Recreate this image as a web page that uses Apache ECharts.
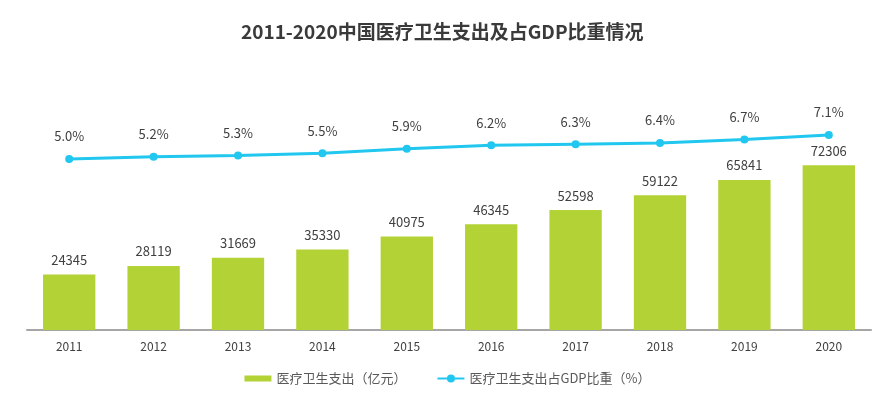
<!DOCTYPE html>
<html><head><meta charset="utf-8">
<script src="https://cdn.jsdelivr.net/npm/echarts@6/dist/echarts.min.js"></script>
<style>html,body{margin:0;padding:0;background:#fff}#c{width:895px;height:394px}</style>
</head><body><div id="c"></div>
<script>
const years = ['2011','2012','2013','2014','2015','2016','2017','2018','2019','2020'];
const spending = [24345, 28119, 31669, 35330, 40975, 46345, 52598, 59122, 65841, 72306];
const gdpShare = [5.0, 5.2, 5.3, 5.5, 5.9, 6.2, 6.3, 6.4, 6.7, 7.1];
const shareLabels = ['5.0%','5.2%','5.3%','5.5%','5.9%','6.2%','6.3%','6.4%','6.7%','7.1%'];
const FONT = '"Noto Sans CJK SC", "Noto Sans", sans-serif';
const chart = echarts.init(document.getElementById('c'), null, {renderer:'canvas'});
chart.setOption({
  animation: false,
  textStyle: {fontFamily: FONT},
  title: {
    text: '2011-2020中国医疗卫生支出及占GDP比重情况',
    left: 236, top: 17,
    textStyle: {fontFamily: FONT, fontSize: 19, fontWeight: 'bold', color: '#3a3a3a'}
  },
  legend: {
    bottom: 4, left: 'center', itemGap: 30, itemWidth: 27, itemHeight: 10,
    textStyle: {fontFamily: FONT, fontSize: 13, color: '#595959'},
    data: [
      {name: '医疗卫生支出（亿元）', icon: 'path://M0,0 L27,0 L27,6 L0,6 Z'},
      {name: '医疗卫生支出占GDP比重（%）'}
    ]
  },
  grid: {left: 27, right: 24, top: 102, bottom: 64, containLabel: false},
  xAxis: {
    type: 'category', data: years,
    axisLine: {lineStyle: {color: '#a6a6a6', width: 2}},
    axisTick: {show: false},
    axisLabel: {color: '#404040', fontSize: 12, margin: 10, fontFamily: FONT}
  },
  yAxis: [
    {type: 'value', min: 0, max: 100000, show: false, splitLine: {show: false}},
    {type: 'value', min: -10, max: 10, show: false, splitLine: {show: false}}
  ],
  series: [
    {
      name: '医疗卫生支出（亿元）', type: 'bar', data: spending, yAxisIndex: 0,
      barWidth: '62%',
      itemStyle: {color: '#b3d235'},
      label: {show: true, position: 'top', distance: 8, color: '#404040', fontSize: 13, fontFamily: FONT}
    },
    {
      name: '医疗卫生支出占GDP比重（%）', type: 'line', data: gdpShare, yAxisIndex: 1,
      symbol: 'circle', symbolSize: 8,
      lineStyle: {color: '#22c7ef', width: 3},
      itemStyle: {color: '#22c7ef'},
      label: {show: true, position: 'top', distance: 12, color: '#404040', fontSize: 13, fontFamily: FONT,
        formatter: p => shareLabels[p.dataIndex]}
    }
  ]
});
</script></body></html>
